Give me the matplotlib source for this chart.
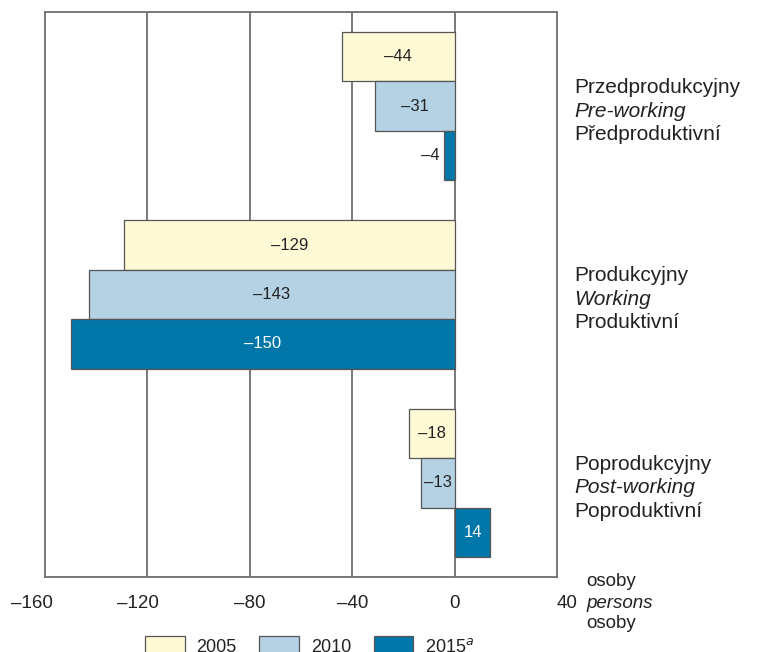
import numpy as np
import matplotlib.pyplot as plt
import matplotlib.transforms as mtransforms

plt.rcParams["font.family"] = ["Liberation Sans", "DejaVu Sans"]

# data
groups = [
    ("Przedprodukcyjny", "Pre-working", "Předproduktivní"),
    ("Produkcyjny", "Working", "Produktivní"),
    ("Poprodukcyjny", "Post-working", "Poproduktivní"),
]
years = ["2005", "2010", "2015$^{\\mathit{a}}$"]
v2005 = [-44, -129, -18]
v2010 = [-31, -143, -13]
v2015 = [-4, -150, 14]
ticks = [-160, -120, -80, -40, 0, 40]

colors = ["#fffad6", "#b4d2e4", "#0077a8"]
grid_col = "#6e6e6e"
text_col = "#222222"

fig = plt.figure(figsize=(7.58, 6.52), dpi=100)
ax = fig.add_axes([0.0594, 0.115, 0.6754, 0.8666])

centers = np.array([0.5, 1.5, 2.5])
h = 0.262
series = [v2005, v2010, v2015]
for i, vals in enumerate(series):
    y = centers + (i - 1) * h
    bars = ax.barh(y, vals, height=h, color=colors[i], edgecolor="#555555",
                   linewidth=0.9, label=years[i], zorder=3)
    for b, v in zip(bars, vals):
        cy = b.get_y() + b.get_height() / 2
        txt = f"{v}".replace("-", "\u2013")
        tc = "white" if i == 2 else text_col
        if abs(v) < 8 and v < 0:
            ax.text(v - 2, cy, txt, ha="right", va="center", fontsize=12,
                    color=text_col, zorder=4)
        else:
            ax.text(v / 2, cy, txt, ha="center", va="center", fontsize=12,
                    color=tc, zorder=4)

ax.set_xlim(-160, 40)
ax.set_ylim(3, 0)
ax.set_xticks(ticks)
ax.set_xticklabels([f"{t}".replace("-", "\u2013") for t in ticks], fontsize=13.5)
ax.set_yticks([])
ax.tick_params(axis="x", length=0, pad=13, colors=text_col)
# small horizontal nudges of tick labels as in the original
shifts = {-160: -9.5, -120: -6.5, 40: 7}
for t, lab in zip(ticks, ax.get_xticklabels()):
    dx = shifts.get(t, 0)
    if dx:
        lab.set_transform(lab.get_transform() +
                          mtransforms.ScaledTranslation(dx / 72, 0, fig.dpi_scale_trans))
for x in ticks[1:-1]:
    ax.axvline(x, color=grid_col, linewidth=1.3, zorder=1)
for s in ax.spines.values():
    s.set_color(grid_col)
    s.set_linewidth(1.3)

# category labels on the right
for c, names in zip(centers, groups):
    for k, name in enumerate(names):
        ax.annotate(name, xy=(1.033, c), xycoords=("axes fraction", "data"),
                    xytext=(0, -3.5 - (k - 1) * 17), textcoords="offset points",
                    ha="left", va="center", fontsize=15, color=text_col,
                    style="italic" if k == 1 else "normal")

# unit label
for yy, word, st in [(581, "osoby", "normal"), (603, "persons", "italic"),
                     (624, "osoby", "normal")]:
    fig.text(586 / 758, 1 - yy / 652, word, fontsize=13.5, va="center",
             ha="left", style=st, color=text_col)

fig.legend(loc="center left", bbox_to_anchor=(145 / 758, 1 - 646 / 652),
           ncol=3, frameon=False, fontsize=13, handlelength=2.2,
           handleheight=1.3, handletextpad=0.65, columnspacing=1.25,
           borderpad=0, borderaxespad=0, labelcolor=text_col)

fig.savefig("out.png", dpi=100)
